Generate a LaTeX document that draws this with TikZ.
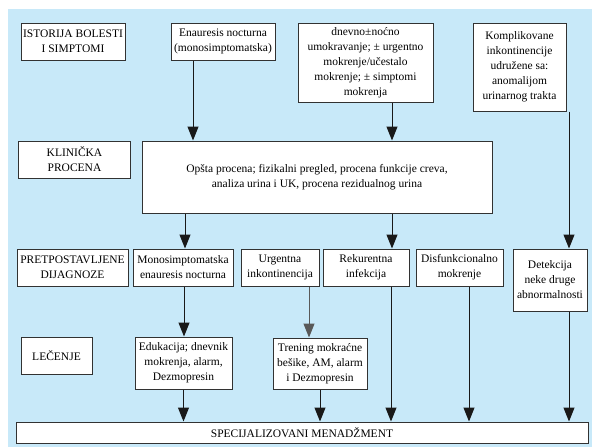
\documentclass[tikz,border=0pt]{standalone}
\usepackage{fontspec}
\setmainfont{Liberation Serif}
\usetikzlibrary{arrows.meta,calc}
\definecolor{bgblue}{RGB}{200,233,249}
\definecolor{boxline}{RGB}{50,50,50}
\begin{document}
\begin{tikzpicture}[x=1pt,y=-1pt,
  box/.style={draw=boxline,line width=1pt,fill=white,inner sep=0pt,align=center,
    font=\fontsize{11.5}{15}\selectfont},
  arr/.style={draw=black!90,line width=1pt,-{Triangle[length=14pt,width=11pt]}},
  garr/.style={arr,draw=black!65}
]
\useasboundingbox (0,0) rectangle (592,447);
\fill[bgblue] (8,9) rectangle (592,447);
% row 1
\node[box,minimum width=104pt,minimum height=37pt] (ist) at (73,41.5) {ISTORIJA BOLESTI\\I SIMPTOMI};
\node[box,minimum width=104pt,minimum height=37pt] (enu) at (223,41.5) {Enauresis nocturna\\(monosimptomatska)};
\node[box,minimum width=135pt,minimum height=79pt] (dnv) at (365.5,62.5) {dnevno±noćno\\umokravanje; ± urgentno\\mokrenje/učestalo\\mokrenje; ± simptomi\\mokrenja};
\node[box,minimum width=93pt,minimum height=88pt] (kom) at (519.5,67) {Komplikovane\\inkontinencije\\udružene sa:\\anomalijom\\urinarnog trakta};
% row 2
\node[box,minimum width=112pt,minimum height=37pt] (kli) at (74.5,159.5) {KLINIČKA\\PROCENA};
\node[box,minimum width=350pt,minimum height=72pt] (main) at (317,177) {Opšta procena; fizikalni pregled, procena funkcije creva,\\analiza urina i UK, procena rezidualnog urina};
% row 3
\node[box,minimum width=111pt,minimum height=37pt] (pre) at (72.5,267.5) {PRETPOSTAVLJENE\\DIJAGNOZE};
\node[box,minimum width=100pt,minimum height=37pt] (mon) at (183,267.5) {Monosimptomatska\\enauresis nocturna};
\node[box,minimum width=78pt,minimum height=37pt] (urg) at (280,267.5) {Urgentna\\inkontinencija};
\node[box,minimum width=86pt,minimum height=37pt] (rek) at (366,267.5) {Rekurentna\\infekcija};
\node[box,minimum width=87pt,minimum height=37pt] (dis) at (459.5,267.5) {Disfunkcionalno\\mokrenje};
\node[box,minimum width=74pt,minimum height=62pt] (det) at (550,280) {Detekcija\\neke druge\\abnormalnosti};
% row 4
\node[box,minimum width=71pt,minimum height=37pt] (lec) at (56.5,355.5) {LEČENJE};
\node[box,minimum width=97pt,minimum height=52pt] (edu) at (183.5,363) {Edukacija; dnevnik\\mokrenja, alarm,\\Dezmopresin};
\node[box,minimum width=94pt,minimum height=51pt] (tre) at (320,363.5) {Trening mokraćne\\bešike, AM, alarm\\i Dezmopresin};
% bottom
\node[box,minimum width=572pt,minimum height=21pt] (spec) at (302,432.5) {SPECIJALIZOVANI MENADŽMENT};
% arrows
\draw[arr] ([xshift=-30pt]enu.south) -- ([xshift=-30pt]enu.south |- main.north);
\draw[arr] ([xshift=26.5pt]dnv.south) -- ([xshift=26.5pt]dnv.south |- main.north);
\draw[arr] ([xshift=19pt]det.north |- kom.south) -- ([xshift=19pt]det.north);
\draw[arr] ([xshift=2pt]mon.north |- main.south) -- ([xshift=2pt]mon.north);
\draw[arr] ([xshift=26pt]rek.north |- main.south) -- ([xshift=26pt]rek.north);
\draw[arr] ([xshift=1pt]mon.south) -- ([xshift=1pt]mon.south |- edu.north);
\draw[garr] ([xshift=29pt]urg.south) -- ([xshift=29pt]urg.south |- tre.north);
\draw[arr] (edu.south) -- (edu.south |- spec.north);
\draw[arr] (tre.south) -- (tre.south |- spec.north);
\draw[arr] ([xshift=25pt]rek.south) -- ([xshift=25pt]rek.south |- spec.north);
\draw[arr] ([xshift=9.5pt]dis.south) -- ([xshift=9.5pt]dis.south |- spec.north);
\draw[arr] ([xshift=19pt]det.south) -- ([xshift=19pt]det.south |- spec.north);
\end{tikzpicture}
\end{document}
